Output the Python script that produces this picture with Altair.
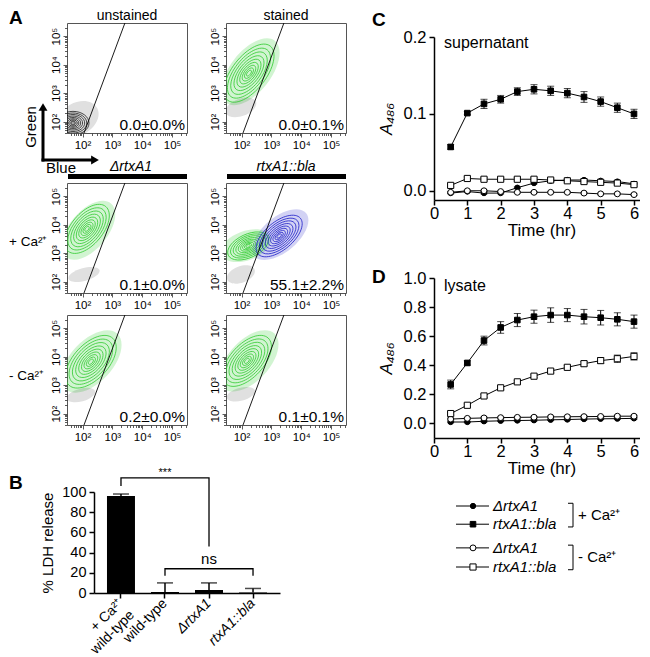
import math
import altair as alt
import pandas as pd

FONT = "Liberation Sans"
GREEN = "#2fcb2f"
BLUE = "#1e1ec8"
COLOURS = {"green": GREEN, "black": "#111111", "blue": BLUE}
DOT_OPACITY = {"green": 0.22, "black": 0.13, "blue": 0.2}

# ---------------- Panel A: flow cytometry ----------------
flow_panels = ["unstained", "stained", "drtx_ca", "bla_ca", "drtx_noca", "bla_noca"]
flow_percent = ["0.0±0.0%", "0.0±0.1%", "0.1±0.0%", "55.1±2.2%", "0.2±0.0%", "0.1±0.1%"]
gate_blue = [2.05, 3.42]
gate_green = [1.6, 5.46]

pop_panel = ["unstained", "unstained",
             "stained", "stained", "stained",
             "drtx_ca", "drtx_ca", "drtx_ca",
             "bla_ca", "bla_ca", "bla_ca", "bla_ca", "bla_ca",
             "drtx_noca", "drtx_noca", "drtx_noca",
             "bla_noca", "bla_noca", "bla_noca"]
pop_kind = ["dots", "contour",
            "dots", "dots", "contour",
            "dots", "dots", "contour",
            "dots", "dots", "dots", "contour", "contour",
            "dots", "dots", "contour",
            "dots", "dots", "contour"]
pop_color = ["black", "black",
             "green", "black", "green",
             "green", "black", "green",
             "green", "black", "blue", "green", "blue",
             "green", "black", "green",
             "green", "black", "green"]
pop_blue = [1.85, 1.68,
            2.3, 1.98, 2.25,
            2.2, 2.05, 2.15,
            2.15, 1.98, 3.3, 2.22, 3.26,
            2.3, 1.95, 2.28,
            2.25, 1.98, 2.18]
pop_green = [2.1, 1.95,
             3.75, 2.5, 3.7,
             3.8, 2.25, 3.85,
             3.26, 2.25, 3.65, 3.25, 3.6,
             3.83, 2.65, 3.82,
             3.85, 2.68, 3.85]
pop_long = [0.75, 0.55,
            1.35, 0.55, 1.18,
            1.2, 0.55, 1.0,
            0.9, 0.5, 1.15, 0.75, 0.95,
            1.3, 0.5, 1.1,
            1.28, 0.5, 1.07]
pop_short = [0.55, 0.4,
             0.7, 0.3, 0.58,
             0.65, 0.22, 0.54,
             0.5, 0.28, 0.6, 0.4, 0.48,
             0.72, 0.22, 0.6,
             0.7, 0.22, 0.57]
pop_tilt = [30, 0,
            52, 20, 52,
            50, 15, 50,
            20, 20, 40, 25, 40,
            47, 15, 47,
            47, 15, 47]
contour_levels = [1.0, 0.86, 0.73, 0.6, 0.48, 0.37, 0.27, 0.18, 0.1]

# ---------------- Panel B: LDH release ----------------
b_cats = ["wt_ca", "wt", "drtx", "bla"]
b_mean = [96, 1, 3, 0.5]
b_err = [2, 9, 7, 4]
brk_id = [1, 1, 1, 1, 2, 2, 2, 2]
brk_cat = ["wt_ca", "wt_ca", "drtx", "drtx", "wt", "wt", "bla", "bla"]
brk_y = [106, 114, 114, 46, 17, 24, 24, 17]

# ---------------- Panels C / D: kinetics ----------------
time_hr = [0.5, 1, 1.5, 2, 2.5, 3, 3.5, 4, 4.5, 5, 5.5, 6]
series_names = ["d_ca", "bla_ca", "d_no", "bla_no"]
series_shape = ["circle", "square", "circle", "square"]
series_fill = ["black", "black", "white", "white"]
series_size = [28, 38, 28, 38]

sup_d_ca = [-0.003, -0.001, -0.003, -0.003, 0.004, 0.010, 0.013, 0.014, 0.014, 0.013, 0.012, 0.009]
sup_bla_ca = [0.057, 0.101, 0.113, 0.119, 0.129, 0.132, 0.130, 0.127, 0.122, 0.116, 0.108, 0.100]
sup_d_no = [-0.002, 0.0, 0.0, -0.001, -0.002, -0.002, -0.002, -0.002, -0.003, -0.004, -0.004, -0.005]
sup_bla_no = [0.007, 0.016, 0.015, 0.015, 0.015, 0.015, 0.014, 0.013, 0.012, 0.011, 0.010, 0.008]
sup_d_ca_err = [0.001] * 12
sup_bla_ca_err = [0.003, 0.002, 0.006, 0.005, 0.005, 0.006, 0.006, 0.006, 0.007, 0.006, 0.006, 0.006]
sup_d_no_err = [0.001] * 12
sup_bla_no_err = [0.002] * 12

lys_d_ca = [0.01, 0.01, 0.015, 0.018, 0.02, 0.022, 0.025, 0.027, 0.03, 0.032, 0.033, 0.035]
lys_bla_ca = [0.268, 0.416, 0.57, 0.66, 0.711, 0.734, 0.745, 0.745, 0.734, 0.727, 0.716, 0.70]
lys_d_no = [0.03, 0.035, 0.038, 0.04, 0.042, 0.043, 0.045, 0.046, 0.047, 0.048, 0.05, 0.05]
lys_bla_no = [0.068, 0.125, 0.189, 0.245, 0.286, 0.325, 0.36, 0.386, 0.411, 0.432, 0.445, 0.461]
lys_d_ca_err = [0.005] * 12
lys_bla_ca_err = [0.03, 0.015, 0.03, 0.04, 0.045, 0.045, 0.05, 0.045, 0.05, 0.05, 0.045, 0.045]
lys_d_no_err = [0.006] * 12
lys_bla_no_err = [0.01, 0.01, 0.01, 0.01, 0.01, 0.01, 0.012, 0.012, 0.015, 0.02, 0.025, 0.025]

legend_label = ["ΔrtxA1", "rtxA1::bla", "ΔrtxA1", "rtxA1::bla"]
legend_row = [0, 1, 2.3, 3.35]
bracket_top = [0, 2.3]
bracket_bottom = [1, 3.35]
bracket_label = ["+ Ca²⁺", "- Ca²⁺"]

# =====================================================================
# layout: a flush grid of 2 columns; the first flow plot's top-left corner is at PAGE0
PAGE0 = (66, 22)
COL_X = [0, 159]
ROW_Y = [0, 110, 160, 270, 292, 402]


def cell(c, r):
    return PAGE0[0] + COL_X[c], PAGE0[1] + ROW_Y[r]


FX = [1.48, 5.5]
FY = [1.6, 5.46]
FW, FH = 120, 110
PPD = (FW / (FX[1] - FX[0]) + FH / (FY[1] - FY[0])) / 2


def ellipse_path(ratio):
    return f"M-1,0A1,{ratio:.3f},0,1,0,1,0A1,{ratio:.3f},0,1,0,-1,0Z"


rows = []
for i in range(len(pop_panel)):
    levels = contour_levels if pop_kind[i] == "contour" else [1.0]
    for lev in levels:
        rows.append(dict(panel=pop_panel[i], kind=pop_kind[i], bx=pop_blue[i], gy=pop_green[i],
                         size=4 * (pop_long[i] * lev * PPD) ** 2,
                         shape=ellipse_path(pop_short[i] / pop_long[i]),
                         angle=(360 - pop_tilt[i]) % 360,
                         col=COLOURS[pop_color[i]], fop=DOT_OPACITY[pop_color[i]]))
df_pop = pd.DataFrame(rows)

major = [2, 3, 4, 5]
minor = [round(math.log10(k * 10 ** n), 4) for n in range(1, 6) for k in range(2, 10)]
x_ticks = [v for v in major + minor if FX[0] <= v <= FX[1]]
y_ticks = [v for v in major + minor if FY[0] <= v <= FY[1]]
LOG_LABEL = ("datum.value == 2 ? '10²' : datum.value == 3 ? '10³' : "
             "datum.value == 4 ? '10⁴' : datum.value == 5 ? '10⁵' : ''")
TICK_SIZE = {"condition": {"test": "abs(datum.value - round(datum.value)) < 0.001", "value": 4},
             "value": 2.5}


def flow_axes():
    common = dict(labelExpr=LOG_LABEL, tickSize=TICK_SIZE, domain=False, grid=False, title=None,
                  labelFontSize=11.5, labelPadding=2, labelOverlap=False, labelFlush=False,
                  tickColor="#333333", tickWidth=0.8, labelColor="black")
    xa = alt.Axis(values=x_ticks, **common)
    ya = alt.Axis(values=y_ticks, labelAngle=270, labelAlign="center", labelBaseline="bottom", **common)
    return xa, ya


def txt(text, x, y, size=14, align="left", baseline="alphabetic", style="normal", weight="normal",
        angle=None):
    kw = dict(align=align, baseline=baseline, fontSize=size, fontStyle=style, fontWeight=weight,
              font=FONT, color="black")
    if angle is not None:
        kw["angle"] = angle
    return alt.Chart(pd.DataFrame({"t": [text]})).mark_text(**kw).encode(
        text="t:N", x=alt.value(x), y=alt.value(y))


def flow_chart(idx, extras):
    name = flow_panels[idx]
    pops = df_pop[df_pop.panel == name]
    xa, ya = flow_axes()
    xenc = alt.X("bx:Q", scale=alt.Scale(domain=FX, nice=False, zero=False), axis=xa)
    yenc = alt.Y("gy:Q", scale=alt.Scale(domain=FY, nice=False, zero=False), axis=ya)
    common = dict(x=xenc, y=yenc,
                  size=alt.Size("size:Q", scale=None),
                  shape=alt.Shape("shape:N", scale=None),
                  angle=alt.Angle("angle:Q", scale=None))
    dots = alt.Chart(pops[pops.kind == "dots"]).mark_point(
        filled=True, clip=True, strokeOpacity=0, opacity=1).encode(
        fill=alt.Fill("col:N", scale=None), fillOpacity=alt.FillOpacity("fop:Q", scale=None), **common)
    cont = alt.Chart(pops[pops.kind == "contour"]).mark_point(
        filled=False, clip=True, strokeWidth=0.75, opacity=1).encode(
        stroke=alt.Stroke("col:N", scale=None), **common)
    gate = alt.Chart(pd.DataFrame({"bx": gate_blue, "gy": gate_green})).mark_line(
        color="black", strokeWidth=0.9, clip=True).encode(x=xenc, y=yenc)
    pct = txt(flow_percent[idx], FW - 2, FH - 3, size=15.5, align="right")
    return alt.layer(dots, cont, gate, pct, *extras).properties(
        width=FW, height=FH, view=alt.ViewBackground(stroke="#555555", strokeWidth=1))


def black_bar():
    return alt.Chart(pd.DataFrame({"a": [0]})).mark_rect(color="black").encode(
        x=alt.value(1), x2=alt.value(120), y=alt.value(-9), y2=alt.value(-4))


def one():
    return alt.Chart(pd.DataFrame({"a": [0]}))


arrow_marks = [
    one().mark_rule(color="black", strokeWidth=3).encode(x=alt.value(-24), y=alt.value(86), y2=alt.value(138.5)),
    one().mark_rule(color="black", strokeWidth=3).encode(x=alt.value(-25.5), x2=alt.value(26), y=alt.value(137)),
    one().mark_point(shape="triangle-up", filled=True, color="black", size=80, opacity=1).encode(
        x=alt.value(-24), y=alt.value(84)),
    one().mark_point(shape="triangle-right", filled=True, color="black", size=80, opacity=1).encode(
        x=alt.value(28), y=alt.value(137)),
]

p_unstained = flow_chart(0, [
    txt("A", -58, 1, size=19, weight="bold"),
    txt("unstained", FW / 2, -3, size=14, align="center"),
    txt("Green", -28, 104, size=15, align="center", baseline="bottom", angle=270),
    txt("Blue", -21, 150, size=15),
] + arrow_marks)
p_stained = flow_chart(1, [txt("stained", FW / 2, -3, size=14, align="center")])
p_drtx_ca = flow_chart(2, [black_bar(), txt("ΔrtxA1", FW / 2 + 4, -12, size=14, align="center", style="italic"),
                           txt("+ Ca²⁺", -58, 59, size=13.5, baseline="middle")])
p_bla_ca = flow_chart(3, [black_bar(), txt("rtxA1::bla", FW / 2, -12, size=14, align="center", style="italic")])
p_drtx_no = flow_chart(4, [txt("- Ca²⁺", -58, 61, size=13.5, baseline="middle")])
p_bla_no = flow_chart(5, [])


def spacer(w, h):
    return one().mark_point(opacity=0).encode(x=alt.value(0), y=alt.value(0)).properties(width=w, height=h)


axis_style = dict(domainColor="black", domainWidth=1.5, tickColor="black", tickWidth=1.5, tickSize=5,
                  labelColor="black", grid=False, titleColor="black", titleFontWeight="normal",
                  labelOverlap=False, labelFlush=False)

# ---------------- B chart (placed in its grid cell through its scale ranges) ----------------
bcx, bcy = cell(0, 5)
B_LEFT, B_RIGHT, B_TOP, B_BOTTOM = 93, 279, 491, 592
df_b = pd.DataFrame({"cat": b_cats, "v": b_mean, "hi": [m + e for m, e in zip(b_mean, b_err)]})
B_LABEL = ("datum.value == 'wt_ca' ? ['+ Ca²⁺', 'wild-type'] : datum.value == 'wt' ? 'wild-type' : "
           "datum.value == 'drtx' ? 'ΔrtxA1' : 'rtxA1::bla'")
b_xscale = alt.Scale(paddingInner=0.364, paddingOuter=0.295, range=[B_LEFT - bcx, B_RIGHT - bcx])
b_xaxis = alt.Axis(title=None, labelAngle=315, labelAlign="right", labelBaseline="middle",
                   labelExpr=B_LABEL, labelFontSize=14, labelPadding=3, offset=B_BOTTOM - bcy - 1,
                   labelFontStyle={"condition": {"test": "datum.value == 'drtx' || datum.value == 'bla'",
                                                 "value": "italic"}, "value": "normal"},
                   **axis_style)
b_yscale = alt.Scale(domain=[0, 100], nice=False, range=[B_BOTTOM - bcy, B_TOP - bcy])
b_yaxis = alt.Axis(values=[0, 20, 40, 60, 80, 100], title="% LDH release", titleFontSize=15,
                   titlePadding=6, labelFontSize=14.5, labelPadding=3, offset=-(B_LEFT - bcx), **axis_style)


def BX(f="cat:N"):
    return alt.X(f, sort=b_cats, scale=b_xscale, axis=b_xaxis)


def BY(f):
    return alt.Y(f, scale=b_yscale, axis=b_yaxis)


b_bars = alt.Chart(df_b).mark_bar(color="black").encode(x=BX(), y=BY("v:Q"))
b_err_rule = alt.Chart(df_b).mark_rule(color="black", strokeWidth=1.5).encode(x=BX(), y=BY("v:Q"), y2="hi:Q")
b_caps = alt.Chart(df_b).mark_tick(orient="horizontal", size=16, thickness=1.5, color="black").encode(
    x=BX(), y=BY("hi:Q"))
df_brk = pd.DataFrame({"id": brk_id, "cat": brk_cat, "y": brk_y, "o": list(range(len(brk_id)))})
b_brk = alt.Chart(df_brk).mark_line(color="black", strokeWidth=1.3).encode(
    x=BX(), y=BY("y:Q"), detail="id:N", order="o:Q")
b_stars = alt.Chart(pd.DataFrame({"cat": ["wt"], "y": [114], "t": ["***"]})).mark_text(
    fontSize=11, baseline="alphabetic", dy=-2, font=FONT, color="black").encode(
    x=BX(), y=BY("y:Q"), text="t:N")
b_ns = alt.Chart(pd.DataFrame({"cat": ["drtx"], "y": [28.5], "t": ["ns"]})).mark_text(
    fontSize=15, baseline="alphabetic", font=FONT, color="black").encode(
    x=BX(), y=BY("y:Q"), text="t:N")
chart_b = alt.layer(b_bars, b_err_rule, b_caps, b_brk, b_stars, b_ns,
                    txt("B", 8 - bcx, 488 - bcy, size=19, weight="bold")).properties(width=1, height=1)


# ---------------- C / D charts ----------------
def kinetic_chart(vals, errs, ydom, yvals, cpos, box, letter, letter_xy, name, name_xy):
    cx, cy = cpos
    left, right, top, bottom = box
    recs = []
    for s, v, e in zip(series_names, vals, errs):
        for t, a, b in zip(time_hr, v, e):
            recs.append(dict(t=t, series=s, val=a, lo=a - b, hi=a + b))
    df = pd.DataFrame(recs)
    xscale = alt.Scale(domain=[0, 6.45], nice=False, zero=False, range=[left - cx, right - cx])
    xaxis = alt.Axis(values=[0, 1, 2, 3, 4, 5, 6], format="d", title="Time (hr)", titleFontSize=17,
                     titlePadding=1, labelFontSize=16.5, labelPadding=0, offset=bottom - cy - 1, **axis_style)
    yscale = alt.Scale(domain=ydom, nice=False, zero=False, range=[bottom - cy, top - cy])
    yaxis = alt.Axis(values=yvals, format=".1f", title="A₄₈₆", titleFontStyle="italic",
                     titleFontSize=17, titlePadding=8, labelFontSize=16.5, labelPadding=3,
                     offset=-(left - cx), **axis_style)
    x = alt.X("t:Q", scale=xscale, axis=xaxis)

    def Y(f):
        return alt.Y(f, scale=yscale, axis=yaxis)

    shape = alt.Shape("series:N", scale=alt.Scale(domain=series_names, range=series_shape), legend=None)
    fill = alt.Fill("series:N", scale=alt.Scale(domain=series_names, range=series_fill), legend=None)
    size = alt.Size("series:N", scale=alt.Scale(domain=series_names, range=series_size), legend=None)
    base = alt.Chart(df)
    lines = base.mark_line(color="black", strokeWidth=1).encode(x=x, y=Y("val:Q"), detail="series:N")
    bars = base.mark_rule(color="black", strokeWidth=1).encode(x=x, y=Y("lo:Q"), y2="hi:Q")
    cap_lo = base.mark_tick(orient="horizontal", size=7, thickness=1, color="black").encode(x=x, y=Y("lo:Q"))
    cap_hi = base.mark_tick(orient="horizontal", size=7, thickness=1, color="black").encode(x=x, y=Y("hi:Q"))
    pts = base.mark_point(filled=True, stroke="black", strokeWidth=1, opacity=1).encode(
        x=x, y=Y("val:Q"), shape=shape, fill=fill, size=size)
    return alt.layer(lines, bars, cap_lo, cap_hi, pts,
                     txt(name, name_xy[0] - cx, name_xy[1] - cy, size=16),
                     txt(letter, letter_xy[0] - cx, letter_xy[1] - cy, size=19, weight="bold")
                     ).properties(width=1, height=1)


chart_c = kinetic_chart([sup_d_ca, sup_bla_ca, sup_d_no, sup_bla_no],
                        [sup_d_ca_err, sup_bla_ca_err, sup_d_no_err, sup_bla_no_err],
                        [-0.012, 0.2], [0.0, 0.1, 0.2], cell(1, 1), (433, 648, 36, 199),
                        "C", (371, 25), "supernatant", (443, 47))
chart_d = kinetic_chart([lys_d_ca, lys_bla_ca, lys_d_no, lys_bla_no],
                        [lys_d_ca_err, lys_bla_ca_err, lys_d_no_err, lys_bla_no_err],
                        [-0.1, 1.0], [0.0, 0.2, 0.4, 0.6, 0.8, 1.0], cell(1, 3), (433, 648, 277, 437),
                        "D", (371, 282), "lysate", (443, 290))

# ---------------- legend ----------------
lcx, lcy = cell(1, 5)
df_leg = pd.DataFrame({"row": legend_row, "series": series_names, "label": legend_label})
df_brk_leg = pd.DataFrame({"top": [r - 0.15 for r in bracket_top], "bot": [r + 0.15 for r in bracket_bottom],
                           "mid": [(a + b) / 2 for a, b in zip(bracket_top, bracket_bottom)],
                           "label": bracket_label})
LSCALE = alt.Scale(domain=[0, 3.35], range=[505 - lcy, 566 - lcy])


def LY(f):
    return alt.Y(f, scale=LSCALE, axis=None)


leg_base = alt.Chart(df_leg)
leg_lines = leg_base.mark_rule(color="black", strokeWidth=1).encode(
    x=alt.value(455 - lcx), x2=alt.value(488 - lcx), y=LY("row:Q"))
leg_pts = leg_base.mark_point(filled=True, stroke="black", strokeWidth=1, opacity=1).encode(
    x=alt.value(472 - lcx), y=LY("row:Q"),
    shape=alt.Shape("series:N", scale=alt.Scale(domain=series_names, range=series_shape), legend=None),
    fill=alt.Fill("series:N", scale=alt.Scale(domain=series_names, range=series_fill), legend=None),
    size=alt.Size("series:N", scale=alt.Scale(domain=series_names, range=[22, 28, 22, 28]), legend=None))
leg_txt = leg_base.mark_text(align="left", baseline="middle", fontSize=15, fontStyle="italic",
                             font=FONT, color="black").encode(x=alt.value(492 - lcx), y=LY("row:Q"), text="label:N")
bb = alt.Chart(df_brk_leg)
leg_v = bb.mark_rule(color="black", strokeWidth=1).encode(x=alt.value(572 - lcx), y=LY("top:Q"), y2="bot:Q")
leg_t1 = bb.mark_rule(color="black", strokeWidth=1).encode(x=alt.value(567 - lcx), x2=alt.value(572 - lcx),
                                                            y=LY("top:Q"))
leg_t2 = bb.mark_rule(color="black", strokeWidth=1).encode(x=alt.value(567 - lcx), x2=alt.value(572 - lcx),
                                                            y=LY("bot:Q"))
leg_ca = bb.mark_text(align="left", baseline="middle", fontSize=15, font=FONT, color="black").encode(
    x=alt.value(577 - lcx), y=LY("mid:Q"), text="label:N")
legend = alt.layer(leg_lines, leg_pts, leg_txt, leg_v, leg_t1, leg_t2, leg_ca).properties(width=1, height=1)

# ---------------- assemble ----------------
cells = [
    p_unstained, p_stained,
    spacer(COL_X[1], ROW_Y[2] - ROW_Y[1]), chart_c,
    p_drtx_ca, p_bla_ca,
    spacer(1, ROW_Y[4] - ROW_Y[3]), chart_d,
    p_drtx_no, p_bla_no,
    chart_b, legend,
]
chart = alt.concat(*cells, columns=2, bounds="flush", spacing=0, align="each").properties(
    padding=0, background="white"
).configure(font=FONT).configure_view(stroke=None)

chart.save("out.html", embed_options={"renderer": "svg", "actions": False})
